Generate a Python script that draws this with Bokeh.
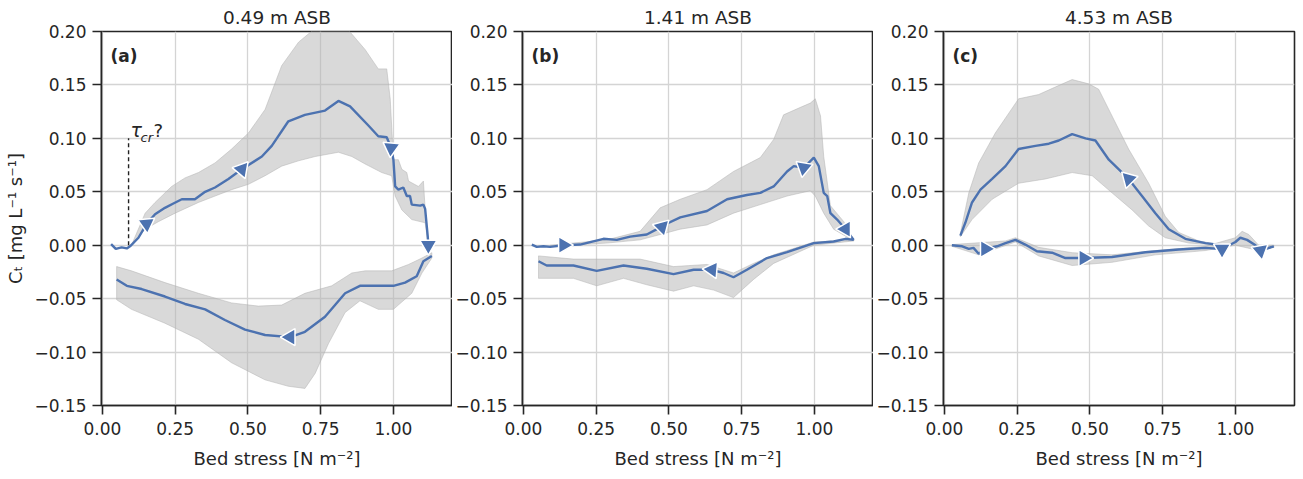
import math
from bokeh.plotting import figure
from bokeh.layouts import row
from bokeh.models import FixedTicker, CustomJSTickFormatter, Label, Range1d
from bokeh.embed import file_html
from bokeh.resources import INLINE

# ---------------- data ----------------
titles = ["0.49 m ASB", "1.41 m ASB", "4.53 m ASB"]
letters = ["(a)", "(b)", "(c)"]
x_ticks = [0.0, 0.25, 0.5, 0.75, 1.0]
y_ticks = [-0.15, -0.10, -0.05, 0.0, 0.05, 0.10, 0.15, 0.20]
tau_cr_x = 0.09
tau_cr_top = 0.1

# Panel (a)
a_l1_x = [0.03, 0.046, 0.066, 0.084, 0.095, 0.124, 0.152, 0.181, 0.215, 0.244, 0.273, 0.318, 0.353, 0.387,
          0.433, 0.479, 0.548, 0.582, 0.639, 0.696, 0.765, 0.811, 0.851, 0.914, 0.948, 0.977, 0.992, 1.0,
          1.006, 1.017, 1.034, 1.046, 1.057, 1.063, 1.092, 1.103, 1.109, 1.118, 1.12]
a_l1_y = [0.001, -0.0035, -0.002, -0.003, -0.001, 0.007, 0.02, 0.029, 0.035, 0.039, 0.043, 0.043, 0.05, 0.054,
          0.062, 0.071, 0.083, 0.093, 0.116, 0.122, 0.126, 0.135, 0.130, 0.112, 0.102, 0.101, 0.091, 0.080,
          0.055, 0.052, 0.054, 0.046, 0.046, 0.038, 0.037, 0.038, 0.034, 0.008, 0.0]
a_b1_hi_x = [0.1, 0.147, 0.181, 0.238, 0.284, 0.33, 0.387, 0.444, 0.502, 0.559, 0.616, 0.674, 0.731, 0.788,
             0.834, 0.903, 0.948, 0.977, 0.989, 1.0, 1.017, 1.029, 1.046, 1.052, 1.086, 1.103, 1.109, 1.12]
a_b1_hi_y = [0.0, 0.030, 0.04, 0.055, 0.063, 0.068, 0.077, 0.09, 0.105, 0.127, 0.168, 0.19, 0.203, 0.206,
             0.205, 0.183, 0.165, 0.165, 0.137, 0.08, 0.08, 0.071, 0.068, 0.06, 0.055, 0.06, 0.034, 0.0]
a_b1_lo_x = [0.1, 0.147, 0.192, 0.25, 0.33, 0.387, 0.444, 0.502, 0.559, 0.616, 0.674, 0.731, 0.811, 0.857,
             0.903, 0.96, 0.994, 1.006, 1.029, 1.063, 1.109, 1.12]
a_b1_lo_y = [0.0, 0.015, 0.022, 0.03, 0.04, 0.046, 0.052, 0.057, 0.065, 0.074, 0.079, 0.083, 0.087, 0.083,
             0.076, 0.068, 0.065, 0.046, 0.033, 0.024, 0.021, 0.0]
a_l2_x = [0.049, 0.084, 0.135, 0.215, 0.284, 0.353, 0.421, 0.49, 0.559, 0.645, 0.696, 0.765, 0.834, 0.885,
          0.937, 1.0, 1.04, 1.08, 1.103, 1.132]
a_l2_y = [-0.032, -0.038, -0.041, -0.048, -0.055, -0.06, -0.07, -0.079, -0.084, -0.086, -0.081, -0.067,
          -0.045, -0.038, -0.038, -0.038, -0.035, -0.029, -0.015, -0.01]
a_b2_hi_x = [0.049, 0.1, 0.215, 0.33, 0.444, 0.536, 0.616, 0.696, 0.788, 0.857, 0.903, 0.994, 1.052, 1.098, 1.132]
a_b2_hi_y = [-0.02, -0.024, -0.035, -0.045, -0.054, -0.057, -0.056, -0.045, -0.038, -0.026, -0.024, -0.024,
             -0.018, -0.012, -0.007]
a_b2_lo_x = [0.049, 0.1, 0.215, 0.33, 0.444, 0.559, 0.639, 0.696, 0.731, 0.777, 0.834, 0.885, 0.948, 1.0,
             1.063, 1.098, 1.132]
a_b2_lo_y = [-0.051, -0.06, -0.073, -0.088, -0.11, -0.126, -0.132, -0.134, -0.12, -0.092, -0.063, -0.052,
             -0.06, -0.06, -0.045, -0.026, -0.012]
a_arrow_x = [0.152, 0.479, 0.992, 1.12, 0.645]
a_arrow_y = [0.02, 0.071, 0.091, 0.0, -0.086]
a_arrow_dir = [35, -70, -95, -90, 180]

# Panel (b)
b_l1_x = [0.029, 0.046, 0.069, 0.092, 0.138, 0.195, 0.275, 0.321, 0.367, 0.424, 0.459, 0.476, 0.539, 0.631,
          0.7, 0.768, 0.814, 0.86, 0.906, 0.929, 0.963, 0.998, 1.015, 1.032, 1.044, 1.055, 1.078, 1.107, 1.135]
b_l1_y = [0.0006, -0.0016, -0.001, -0.0016, 0.0, 0.0006, 0.006, 0.005, 0.008, 0.01, 0.015, 0.018, 0.026,
          0.032, 0.043, 0.047, 0.049, 0.055, 0.069, 0.074, 0.0725, 0.082, 0.074, 0.049, 0.046, 0.030, 0.024,
          0.015, 0.005]
b_b1_hi_x = [0.092, 0.287, 0.401, 0.47, 0.539, 0.631, 0.722, 0.814, 0.86, 0.894, 0.952, 0.986, 1.003, 1.021,
             1.032, 1.055, 1.101, 1.135]
b_b1_hi_y = [0.0, 0.005, 0.013, 0.035, 0.043, 0.052, 0.069, 0.082, 0.099, 0.122, 0.129, 0.133, 0.137, 0.121,
             0.083, 0.037, 0.022, 0.005]
b_b1_lo_x = [0.092, 0.287, 0.401, 0.47, 0.539, 0.631, 0.722, 0.814, 0.906, 0.986, 1.003, 1.032, 1.066, 1.135]
b_b1_lo_y = [-0.001, 0.002, 0.005, 0.01, 0.015, 0.019, 0.03, 0.038, 0.046, 0.051, 0.046, 0.03, 0.015, 0.004]
b_l2_x = [0.052, 0.08, 0.172, 0.252, 0.344, 0.424, 0.516, 0.585, 0.648, 0.688, 0.722, 0.768, 0.837, 0.906,
          0.998, 1.066, 1.107, 1.135]
b_l2_y = [-0.015, -0.019, -0.019, -0.024, -0.019, -0.022, -0.027, -0.023, -0.023, -0.026, -0.03, -0.023,
          -0.012, -0.0065, 0.002, 0.0035, 0.006, 0.005]
b_b2_hi_x = [0.052, 0.172, 0.287, 0.401, 0.516, 0.631, 0.722, 0.791, 0.86, 0.998, 1.135]
b_b2_hi_y = [-0.01, -0.013, -0.013, -0.013, -0.02, -0.018, -0.026, -0.017, -0.009, 0.003, 0.005]
b_b2_lo_x = [0.052, 0.172, 0.252, 0.344, 0.424, 0.516, 0.585, 0.654, 0.722, 0.791, 0.86, 0.998, 1.135]
b_b2_lo_y = [-0.031, -0.031, -0.038, -0.031, -0.037, -0.043, -0.038, -0.042, -0.049, -0.032, -0.017, 0.0, 0.004]
b_arrow_x = [0.138, 0.476, 0.963, 1.107, 0.648]
b_arrow_y = [0.0, 0.017, 0.0725, 0.015, -0.023]
b_arrow_dir = [0, -75, -100, -60, 175]

# Panel (c)
c_l1_x = [0.055, 0.072, 0.095, 0.124, 0.164, 0.21, 0.255, 0.313, 0.359, 0.393, 0.439, 0.485, 0.519, 0.565,
          0.633, 0.679, 0.725, 0.771, 0.828, 0.897, 0.954]
c_l1_y = [0.009, 0.021, 0.04, 0.052, 0.062, 0.074, 0.09, 0.093, 0.095, 0.098, 0.104, 0.1, 0.098, 0.08,
          0.062, 0.046, 0.03, 0.015, 0.006, 0.002, 0.0]
c_b1_hi_x = [0.055, 0.084, 0.118, 0.175, 0.255, 0.324, 0.381, 0.439, 0.496, 0.53, 0.576, 0.633, 0.702, 0.759,
             0.805, 0.874, 0.954]
c_b1_hi_y = [0.011, 0.049, 0.077, 0.105, 0.137, 0.141, 0.148, 0.155, 0.151, 0.146, 0.121, 0.09, 0.058, 0.027,
             0.012, 0.004, 0.0]
c_b1_lo_x = [0.055, 0.095, 0.164, 0.255, 0.347, 0.439, 0.508, 0.576, 0.645, 0.702, 0.759, 0.84, 0.954]
c_b1_lo_y = [0.008, 0.024, 0.043, 0.058, 0.062, 0.068, 0.065, 0.049, 0.033, 0.018, 0.007, 0.002, 0.0]
c_l2_x = [0.026, 0.061, 0.084, 0.1, 0.118, 0.141, 0.181, 0.21, 0.244, 0.278, 0.318, 0.37, 0.416, 0.479,
          0.576, 0.691, 0.805, 0.897, 0.954, 1.0, 1.017, 1.04, 1.069, 1.086, 1.132]
c_l2_y = [0.0, -0.001, -0.0035, -0.0025, -0.008, -0.0035, -0.001, 0.002, 0.005, 0.0006, -0.0056, -0.007,
          -0.012, -0.012, -0.011, -0.0066, -0.004, -0.0025, -0.0035, 0.003, 0.007, 0.005, 0.0, -0.005, -0.001]
c_b2_hi_x = [0.026, 0.21, 0.244, 0.324, 0.439, 0.576, 0.725, 0.897, 1.0, 1.023, 1.046, 1.08, 1.132]
c_b2_hi_y = [0.0006, 0.004, 0.007, -0.002, -0.007, -0.009, -0.005, -0.001, 0.007, 0.013, 0.01, 0.0, 0.0]
c_b2_lo_x = [0.026, 0.118, 0.244, 0.324, 0.439, 0.576, 0.725, 0.897, 1.0, 1.08, 1.132]
c_b2_lo_y = [-0.001, -0.009, 0.003, -0.01, -0.019, -0.016, -0.009, -0.005, 0.0, -0.005, -0.002]
c_arrow_x = [0.633, 0.141, 0.479, 0.954, 1.086]
c_arrow_y = [0.062, -0.0035, -0.012, -0.0035, -0.005]
c_arrow_dir = [135, 0, 0, -90, -80]

# ---------------- styling ----------------
FONT = "DejaVu Sans"
BLUE = "#4C72B0"
SPINE = "#262626"
GRID = "#d4d4d4"
XR = (-0.003, 1.203)
YR = (-0.15, 0.20)

panels = [
    dict(l1=(a_l1_x, a_l1_y), b1=(a_b1_hi_x, a_b1_hi_y, a_b1_lo_x, a_b1_lo_y),
         l2=(a_l2_x, a_l2_y), b2=(a_b2_hi_x, a_b2_hi_y, a_b2_lo_x, a_b2_lo_y),
         arr=(a_arrow_x, a_arrow_y, a_arrow_dir)),
    dict(l1=(b_l1_x, b_l1_y), b1=(b_b1_hi_x, b_b1_hi_y, b_b1_lo_x, b_b1_lo_y),
         l2=(b_l2_x, b_l2_y), b2=(b_b2_hi_x, b_b2_hi_y, b_b2_lo_x, b_b2_lo_y),
         arr=(b_arrow_x, b_arrow_y, b_arrow_dir)),
    dict(l1=(c_l1_x, c_l1_y), b1=(c_b1_hi_x, c_b1_hi_y, c_b1_lo_x, c_b1_lo_y),
         l2=(c_l2_x, c_l2_y), b2=(c_b2_hi_x, c_b2_hi_y, c_b2_lo_x, c_b2_lo_y),
         arr=(c_arrow_x, c_arrow_y, c_arrow_dir)),
]

fmt = CustomJSTickFormatter(code="""
    const v = Math.abs(tick) < 1e-9 ? 0 : tick;
    return (v < 0 ? '\u2212' : '') + Math.abs(v).toFixed(2);
""")

figs = []
for i, d in enumerate(panels):
    left = 101 if i == 0 else 69
    right = 2 if i == 2 else 0
    p = figure(frame_width=351, frame_height=374,
               x_range=Range1d(*XR), y_range=Range1d(*YR),
               output_backend="svg", toolbar_location=None,
               min_border_left=left, min_border_right=right,
               min_border_top=31, min_border_bottom=60)
    p.title.text = titles[i]
    p.title.align = "center"
    p.title.text_font = FONT
    p.title.text_font_size = "18.5px"
    p.title.text_font_style = "normal"
    p.title.text_color = SPINE
    p.title.standoff = 7

    p.outline_line_color = SPINE
    p.outline_line_width = 1.6
    p.background_fill_color = "white"
    p.border_fill_color = "white"

    for ax, ticks in ((p.xaxis, x_ticks), (p.yaxis, y_ticks)):
        ax.ticker = FixedTicker(ticks=ticks)
        ax.formatter = fmt
        ax.minor_tick_line_color = None
        ax.major_tick_in = 0
        ax.major_tick_out = 9
        ax.major_tick_line_color = SPINE
        ax.major_tick_line_width = 1.6
        ax.axis_line_color = SPINE
        ax.axis_line_width = 1.6
        ax.major_label_text_font = FONT
        ax.major_label_text_font_size = "17px"
        ax.major_label_text_color = SPINE
        ax.axis_label_text_font = FONT
        ax.axis_label_text_font_size = "18px"
        ax.axis_label_text_font_style = "normal"
        ax.axis_label_text_color = SPINE
    p.xaxis.major_label_standoff = 7
    p.yaxis.major_label_standoff = 6
    p.xaxis.axis_label = "Bed stress [N m\u207b\u00b2]"
    p.xaxis.axis_label_standoff = 10
    if i == 0:
        p.yaxis.axis_label = "C\u209c [mg L\u207b\u00b9 s\u207b\u00b9]"
        p.yaxis.axis_label_standoff = 5

    p.grid.grid_line_color = GRID
    p.grid.grid_line_width = 1.3
    p.xgrid.ticker = FixedTicker(ticks=x_ticks)
    p.ygrid.ticker = FixedTicker(ticks=y_ticks)

    # bands
    for key in ("b1", "b2"):
        hx, hy, lx, ly = d[key]
        p.patch(list(hx) + list(lx)[::-1], list(hy) + list(ly)[::-1],
                fill_color="#b3b3b3", fill_alpha=0.5, line_color="#b3b3b3", line_alpha=0.5, line_width=1)
    # lines
    for key in ("l1", "l2"):
        lx, ly = d[key]
        p.line(lx, ly, line_color=BLUE, line_width=2.4)
    # arrows
    ax_, ay_, adir = d["arr"]
    angles = [math.radians(a - 90) for a in adir]
    p.scatter(ax_, ay_, marker="triangle", size=17, angle=angles, fill_color=BLUE,
              line_color="white", line_width=1.5)

    p.add_layout(Label(x=XR[0], y=YR[1], x_offset=9, y_offset=-14, text=letters[i],
                       text_font=FONT, text_font_size="17px", text_font_style="bold",
                       text_color=SPINE, text_baseline="top", text_align="left"))

    if i == 0:
        p.line([tau_cr_x, tau_cr_x], [0.0, tau_cr_top], line_color="#222222", line_width=1.4,
               line_dash="4 3")
        p.add_layout(Label(x=tau_cr_x, y=tau_cr_top, x_offset=2, y_offset=-3, text="\u03c4",
                           text_font=FONT, text_font_size="19px", text_font_style="italic",
                           text_color=SPINE, text_baseline="bottom"))
        p.add_layout(Label(x=tau_cr_x, y=tau_cr_top, x_offset=12, y_offset=-7, text="cr",
                           text_font=FONT, text_font_size="13px", text_font_style="italic",
                           text_color=SPINE, text_baseline="bottom"))
        p.add_layout(Label(x=tau_cr_x, y=tau_cr_top, x_offset=25, y_offset=-3, text="?",
                           text_font=FONT, text_font_size="18px",
                           text_color=SPINE, text_baseline="bottom"))
    figs.append(p)

layout = row(*figs, spacing=0)
open("out.html", "w").write(file_html(layout, INLINE))
